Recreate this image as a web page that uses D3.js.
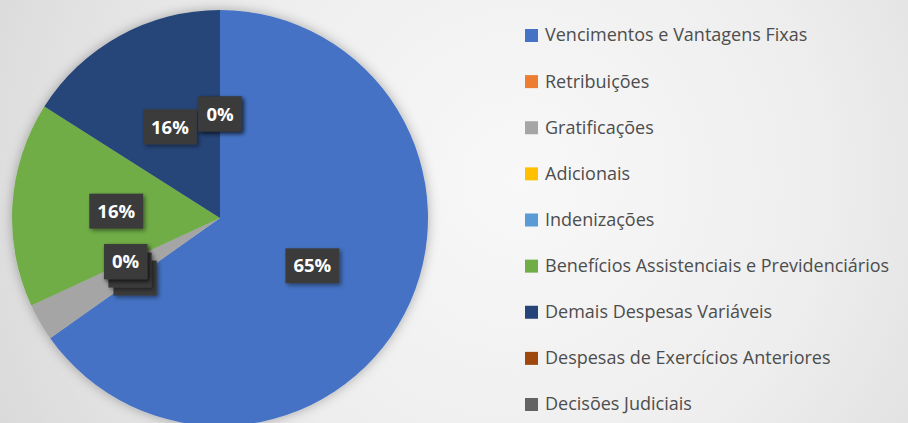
<!DOCTYPE html>
<html>
<head>
    <meta charset="utf-8">
    <title>Despesas de pessoal - composição</title>
    <script src="https://d3js.org/d3.v7.min.js"></script>
    <style>
        html, body { margin: 0; padding: 0; }
        svg { display: block; }
    </style>
</head>
<body>
    <div id="chart"></div>

    <script type="text/javascript">
        // categories, values (% of total) and colours
        var categories = [
            "Vencimentos e Vantagens Fixas",
            "Retribuições",
            "Gratificações",
            "Adicionais",
            "Indenizações",
            "Benefícios Assistenciais e Previdenciários",
            "Demais Despesas Variáveis",
            "Despesas de Exercícios Anteriores",
            "Decisões Judiciais"
        ];
        var values = [65.2, 0, 2.9, 0, 0, 15.9, 16.0, 0, 0];
        var colors = ["#4472C4", "#ED7D31", "#A5A5A5", "#FFC000", "#5B9BD5",
                      "#70AD47", "#264478", "#9E480E", "#636363"];

        var width = 908, height = 423;
        var cx = 220, cy = 218, radius = 208;

        var svg = d3.select("#chart").append("svg")
            .attr("width", width)
            .attr("height", height);

        var defs = svg.append("defs");

        // Background gradient
        var bg = defs.append("radialGradient")
            .attr("id", "bgGrad")
            .attr("gradientUnits", "userSpaceOnUse")
            .attr("cx", 520).attr("cy", 180).attr("r", 600);
        bg.append("stop").attr("offset", "0%").attr("stop-color", "#f8f8f8");
        bg.append("stop").attr("offset", "50%").attr("stop-color", "#eeeeee");
        bg.append("stop").attr("offset", "100%").attr("stop-color", "#d8d8d8");

        // shadows
        var pieShadow = defs.append("filter").attr("id", "pieShadow")
            .attr("x", "-10%").attr("y", "-10%").attr("width", "120%").attr("height", "120%");
        pieShadow.append("feDropShadow")
            .attr("dx", 0).attr("dy", 0).attr("stdDeviation", 6)
            .attr("flood-color", "#000").attr("flood-opacity", 0.3);

        var lblShadow = defs.append("filter").attr("id", "lblShadow")
            .attr("x", "-30%").attr("y", "-30%").attr("width", "160%").attr("height", "160%");
        lblShadow.append("feDropShadow")
            .attr("dx", 2).attr("dy", 2).attr("stdDeviation", 2)
            .attr("flood-color", "#000").attr("flood-opacity", 0.45);

        svg.append("rect")
            .attr("width", width).attr("height", height)
            .attr("fill", "url(#bgGrad)");

        var color = d3.scaleOrdinal().domain(categories).range(colors);

        var data = categories.map(function(c, i) { return { name: c, value: values[i] }; });
        var total = d3.sum(values);

        var pie = d3.pie().sort(null).value(function(d) { return d.value; });
        var arc = d3.arc().innerRadius(0).outerRadius(radius);
        var arcs = pie(data);

        var g = svg.append("g").attr("transform", "translate(" + cx + "," + cy + ")");

        g.append("g")
            .attr("filter", "url(#pieShadow)")
            .selectAll("path")
            .data(arcs)
            .enter()
            .append("path")
            .attr("d", arc)
            .attr("fill", function(d) { return color(d.data.name); });

        // Data labels at the centroid of each slice (drawn in order, later on top)
        var fmt = d3.format(".0%");
        var labels = g.selectAll("g.lbl")
            .data(arcs)
            .enter()
            .append("g")
            .attr("class", "lbl")
            .attr("transform", function(d) {
                var c = arc.centroid(d);
                return "translate(" + c[0] + "," + c[1] + ")";
            });

        labels.append("rect")
            .attr("filter", "url(#lblShadow)")
            .attr("fill", "#3b3b3b");

        labels.append("text")
            .attr("text-anchor", "middle")
            .attr("dy", "0.36em")
            .style("font-family", "'Open Sans', sans-serif")
            .style("font-weight", "bold")
            .style("font-size", "18.5px")
            .style("fill", "#ffffff")
            .text(function(d) { return fmt(d.data.value / total); });

        labels.each(function() {
            var t = d3.select(this).select("text").node();
            var w = t.getComputedTextLength() + 16;
            var h = 35;
            d3.select(this).select("rect")
                .attr("x", -w / 2).attr("y", -h / 2)
                .attr("width", w).attr("height", h);
        });

        // Legend
        var legendY = d3.scalePoint()
            .domain(categories)
            .range([35, 404]);

        var legend = svg.append("g")
            .selectAll("g")
            .data(categories)
            .enter()
            .append("g")
            .attr("transform", function(d) { return "translate(525," + legendY(d) + ")"; });

        legend.append("rect")
            .attr("x", 0).attr("y", -6)
            .attr("width", 13).attr("height", 13)
            .attr("fill", function(d) { return color(d); });

        legend.append("text")
            .attr("x", 20)
            .attr("dy", "0.36em")
            .style("font-family", "'Open Sans', sans-serif")
            .style("font-size", "18px")
            .style("fill", "#4d4d4d")
            .text(function(d) { return d; });
    </script>
</body>
</html>
